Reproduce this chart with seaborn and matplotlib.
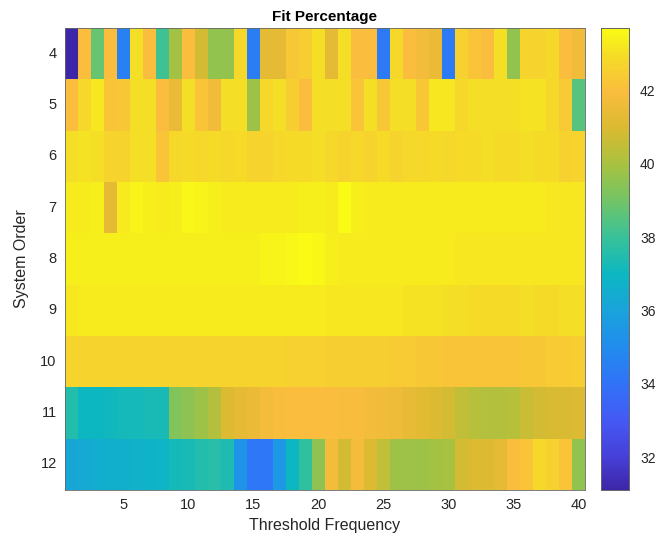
import numpy as np
import pandas as pd
import matplotlib
matplotlib.use("Agg")
import matplotlib.pyplot as plt
import seaborn as sns
from matplotlib.colors import LinearSegmentedColormap

# ---------------- data ----------------
threshold_freq = list(range(1, 41))
system_orders = [4, 5, 6, 7, 8, 9, 10, 11, 12]
x_tick_labels = [5, 10, 15, 20, 25, 30, 35, 40]
cbar_ticks = [32, 34, 36, 38, 40, 42]

order4 = [31.1, 42.0, 38.8, 42.0, 34.5, 43.0, 42.0, 38.1, 39.9, 42.0,
          40.8, 39.6, 39.6, 42.8, 34.4, 41.3, 41.3, 42.3, 42.5, 43.0,
          41.3, 43.0, 42.0, 42.0, 34.3, 42.8, 42.0, 41.8, 41.5, 34.3,
          42.6, 42.2, 42.0, 43.0, 39.6, 42.7, 42.7, 42.8, 42.0, 41.7]
order5 = [42.0, 42.8, 43.2, 42.2, 42.3, 43.0, 43.0, 42.0, 41.5, 43.0,
          42.2, 41.7, 43.0, 43.0, 39.8, 42.8, 43.0, 42.5, 42.0, 43.0,
          43.0, 43.0, 42.2, 43.0, 42.3, 43.0, 43.0, 42.3, 43.2, 43.2,
          42.8, 43.0, 43.0, 43.0, 43.0, 43.1, 43.1, 42.8, 42.4, 38.5]
order6 = [43.0, 43.1, 43.0, 42.7, 42.7, 43.0, 43.0, 42.2, 42.8, 42.9,
          42.8, 42.9, 42.8, 42.9, 42.7, 42.7, 42.8, 42.9, 42.9, 43.0,
          42.8, 42.7, 42.8, 42.7, 42.9, 42.7, 42.8, 42.8, 42.9, 42.8,
          42.9, 42.9, 43.0, 42.9, 42.9, 43.0, 42.9, 42.9, 42.6, 42.7]
order7 = [43.3, 43.3, 43.4, 41.3, 43.3, 43.5, 43.4, 43.3, 43.4, 43.6,
          43.5, 43.4, 43.3, 43.3, 43.3, 43.3, 43.3, 43.3, 43.4, 43.4,
          43.3, 43.7, 43.4, 43.3, 43.3, 43.3, 43.3, 43.3, 43.3, 43.3,
          43.3, 43.3, 43.3, 43.3, 43.3, 43.3, 43.3, 43.2, 43.2, 43.2]
order8 = [43.4, 43.4, 43.4, 43.4, 43.4, 43.4, 43.4, 43.4, 43.4, 43.4,
          43.4, 43.4, 43.4, 43.4, 43.4, 43.5, 43.5, 43.6, 43.7, 43.6,
          43.4, 43.3, 43.3, 43.3, 43.3, 43.3, 43.3, 43.3, 43.3, 43.3,
          43.2, 43.2, 43.2, 43.2, 43.2, 43.2, 43.2, 43.2, 43.2, 43.2]
order9 = [43.2, 43.3, 43.3, 43.3, 43.3, 43.3, 43.3, 43.3, 43.3, 43.3,
          43.3, 43.3, 43.3, 43.3, 43.3, 43.3, 43.3, 43.3, 43.3, 43.3,
          43.2, 43.2, 43.2, 43.2, 43.2, 43.2, 43.1, 43.1, 43.1, 43.0,
          43.0, 42.9, 42.9, 42.9, 42.9, 43.0, 42.9, 42.9, 43.0, 43.0]
order10 = [42.7, 42.7, 42.7, 42.7, 42.7, 42.7, 42.7, 42.7, 42.7, 42.7,
           42.7, 42.7, 42.7, 42.7, 42.7, 42.7, 42.7, 42.6, 42.6, 42.6,
           42.5, 42.5, 42.5, 42.5, 42.5, 42.4, 42.4, 42.3, 42.3, 42.2,
           42.2, 42.2, 42.2, 42.2, 42.2, 42.3, 42.3, 42.4, 42.4, 42.5]
order11 = [37.5, 37.0, 37.0, 37.1, 37.2, 37.2, 37.3, 37.3, 39.3, 39.5,
           39.8, 40.2, 41.0, 41.3, 41.5, 41.8, 41.9, 42.0, 42.0, 42.0,
           42.0, 41.9, 41.9, 41.8, 41.7, 41.6, 41.4, 41.2, 41.0, 40.8,
           40.5, 40.3, 40.2, 40.2, 40.3, 40.6, 40.8, 40.9, 40.9, 41.0]
order12 = [36.2, 36.3, 36.5, 36.6, 36.6, 36.7, 36.8, 36.9, 37.2, 37.3,
           37.5, 37.6, 37.4, 35.3, 34.2, 34.2, 35.5, 37.0, 37.8, 39.5,
           41.8, 40.8, 41.8, 41.0, 40.5, 39.8, 39.8, 39.8, 39.9, 40.0,
           40.8, 41.0, 41.0, 41.3, 42.0, 42.2, 42.8, 42.6, 42.2, 39.6]

rows = [order4, order5, order6, order7, order8, order9, order10, order11, order12]
df = pd.DataFrame(rows, index=system_orders, columns=threshold_freq)

# ---------------- parula-like colormap ----------------
parula_pts = [
    (0.000, (0.2422, 0.1504, 0.6603)),
    (0.071, (0.275, 0.250, 0.850)),
    (0.151, (0.270, 0.350, 0.960)),
    (0.230, (0.190, 0.450, 0.970)),
    (0.310, (0.130, 0.550, 0.930)),
    (0.389, (0.100, 0.640, 0.860)),
    (0.468, (0.050, 0.720, 0.760)),
    (0.548, (0.220, 0.760, 0.600)),
    (0.627, (0.450, 0.770, 0.400)),
    (0.706, (0.660, 0.760, 0.250)),
    (0.786, (0.860, 0.730, 0.190)),
    (0.865, (0.980, 0.740, 0.240)),
    (0.944, (0.960, 0.870, 0.150)),
    (1.000, (0.9769, 0.9839, 0.0805))]
parula = LinearSegmentedColormap.from_list("parula", parula_pts, N=256)

# ---------------- figure ----------------
sns.set_style("white")
plt.rcParams["font.family"] = ["Liberation Sans", "DejaVu Sans"]

W, H = 659, 550
fig = plt.figure(figsize=(W / 100, H / 100), dpi=100)
fig.patch.set_facecolor("white")
ax = fig.add_axes([65 / W, 1 - 490 / H, 520 / W, 462 / H])
cax = fig.add_axes([601 / W, 1 - 490 / H, 28 / W, 462 / H])

sns.heatmap(df, ax=ax, cmap=parula, vmin=31.1, vmax=43.7, cbar_ax=cax,
            cbar_kws={"ticks": cbar_ticks}, linewidths=0, rasterized=True)

tick_col = "#262626"
ax.set_xticks([v - 0.5 for v in x_tick_labels])
ax.set_xticklabels([str(v) for v in x_tick_labels], rotation=0)
ax.set_yticks([i + 0.5 for i in range(len(system_orders))])
ax.set_yticklabels([str(v) for v in system_orders], rotation=0)
ax.tick_params(axis="both", direction="in", length=4, width=0.6, color=tick_col,
               labelcolor=tick_col, labelsize=10.5, top=True, right=True, pad=6)
for s in ax.spines.values():
    s.set_visible(True)
    s.set_color("#666666")
    s.set_linewidth(0.6)

ax.set_xlabel("Threshold Frequency", fontsize=11.5, color=tick_col, labelpad=4)
ax.set_ylabel("System Order", fontsize=11.5, color=tick_col, labelpad=8)
ax.set_title("Fit Percentage", fontsize=11, fontweight="bold", color="black", pad=5)

cax.tick_params(axis="y", direction="in", length=3, width=0.6, color=tick_col,
                labelcolor=tick_col, labelsize=10, pad=8)
for s in cax.spines.values():
    s.set_visible(True)
    s.set_color("#666666")
    s.set_linewidth(0.6)

fig.savefig("out.png", dpi=100, facecolor="white")
